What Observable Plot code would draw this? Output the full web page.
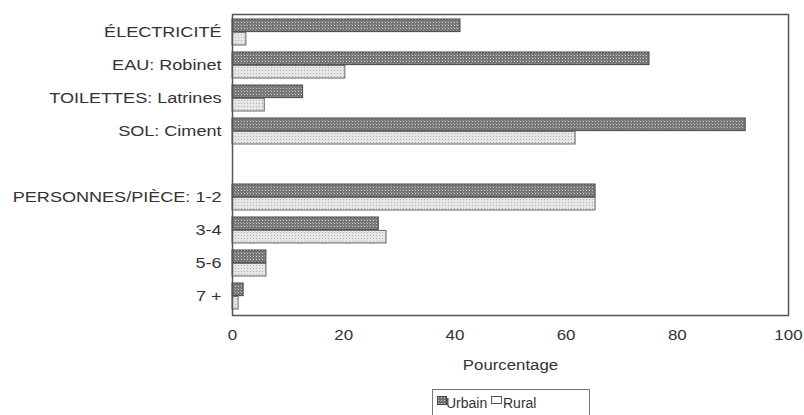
<!DOCTYPE html>
<html>
<head>
<meta charset="utf-8">
<script src="https://cdn.jsdelivr.net/npm/d3@7"></script>
<script src="https://cdn.jsdelivr.net/npm/@observablehq/plot@0.6"></script>
<style>
  html, body { margin: 0; padding: 0; background: #fff; overflow: hidden; }
  #wrap { position: relative; width: 804px; height: 415px; font-family: 'Liberation Sans', Arial, sans-serif; color: #333; }
  #chart svg { display: block; }
  #legend { position: absolute; left: 432px; top: 389px; width: 158px; height: 30px; border: 1px solid #777; box-sizing: border-box; }
  .sw { position: absolute; }
  .lt { position: absolute; top: 5px; font-size: 14px; line-height: 16px; color: #333; }
</style>
</head>
<body>
<div id="wrap">
  <div id="chart"></div>
  <div id="legend"></div>
</div>
<script>
// ---- data ----
const categories = ["ÉLECTRICITÉ", "EAU: Robinet", "TOILETTES: Latrines", "SOL: Ciment", " ",
                    "PERSONNES/PIÈCE: 1-2", "3-4", "5-6", "7 +"];
const urbain = [41, 75, 12.7, 92.3, null, 65.3, 26.3, 6.1, 2];
const rural  = [2.5, 20.3, 5.8, 61.7, null, 65.3, 27.7, 6.1, 1.1];
const series = ["Urbain", "Rural"];
const xTicks = [0, 20, 40, 60, 80, 100];
const xLabel = "Pourcentage";

// ---- layout ----
const W = 804, H = 380, mt = 14, mb = 65, ml = 232, mr = 16;
const padIn = 0.2, padOut = 0.1;
const step = (H - mt - mb) / (categories.length - padIn + 2 * padOut);
const bw = step * (1 - padIn);

const rows = categories.map((c, i) => ({cat: c, u: urbain[i], r: rural[i]})).filter(d => d.u != null);

const plot = Plot.plot({
  width: W, height: H,
  marginTop: mt, marginBottom: mb, marginLeft: ml, marginRight: mr,
  style: {fontFamily: "'Liberation Sans', Arial, sans-serif", color: "#333", background: "#fff"},
  x: {domain: [0, 100]},
  y: {domain: categories, paddingInner: padIn, paddingOuter: padOut},
  marks: [
    Plot.barX(rows, {x: "u", y: "cat", insetBottom: bw / 2, fill: "url(#pUrb)", stroke: "#444", strokeWidth: 1}),
    Plot.barX(rows, {x: "r", y: "cat", insetTop: bw / 2, fill: "url(#pRur)", stroke: "#666", strokeWidth: 1}),
    Plot.frame({stroke: "#555", strokeWidth: 1.5}),
    Plot.axisY({tickSize: 0, tickPadding: 11, fontSize: 14, label: null}),
    Plot.axisX({ticks: xTicks, tickSize: 0, tickPadding: 14, fontSize: 15, label: xLabel,
                labelAnchor: "center", labelOffset: 54, labelArrow: "none"})
  ]
});

const svg = d3.select(plot);
svg.insert("defs", ":first-child").html(`
  <pattern id="pUrb" patternUnits="userSpaceOnUse" width="3" height="3">
    <rect width="3" height="3" fill="#747474"/>
    <rect x="1" y="1" width="1" height="1" fill="#d0d0d0"/>
    <rect x="0" y="0" width="1" height="1" fill="#999"/>
  </pattern>
  <pattern id="pRur" patternUnits="userSpaceOnUse" width="3" height="3">
    <rect width="3" height="3" fill="#e6e6e6"/>
    <rect x="1" y="1" width="1" height="1" fill="#b0b0b0"/>
  </pattern>`);

document.getElementById("chart").append(plot);

// horizontal stretch of the typography (the reference is horizontally widened)
function stretch(sel, sx) {
  sel.each(function () {
    const len = this.getComputedTextLength();
    if (len > 0) {
      this.setAttribute("textLength", len * sx);
      this.setAttribute("lengthAdjust", "spacingAndGlyphs");
    }
  });
}
svg.selectAll('g[aria-label="x-axis label"] text').attr("font-size", 14);
stretch(svg.selectAll('g[aria-label="y-axis tick label"] text'), 1.29);
stretch(svg.selectAll('g[aria-label="x-axis tick label"] text'), 1.13);
stretch(svg.selectAll('g[aria-label="x-axis label"] text'), 1.2);

// ---- legend ----
const lg = document.getElementById("legend");
lg.innerHTML = `
  <svg class="sw" style="left:4px;top:6px" width="10" height="10">
    <defs><pattern id="lpU" patternUnits="userSpaceOnUse" width="3" height="3">
      <rect width="3" height="3" fill="#747474"/><rect x="1" y="1" width="1" height="1" fill="#d0d0d0"/></pattern></defs>
    <rect x="0.5" y="0.5" width="9" height="8" fill="url(#lpU)" stroke="#444"/>
  </svg>
  <span class="lt" style="left:13px">${series[0]}</span>
  <svg class="sw" style="left:58px;top:6px" width="11" height="10">
    <rect x="0.5" y="0.5" width="10" height="7" fill="#fff" stroke="#555"/>
  </svg>
  <span class="lt" style="left:70px">${series[1]}</span>`;
</script>
</body>
</html>
